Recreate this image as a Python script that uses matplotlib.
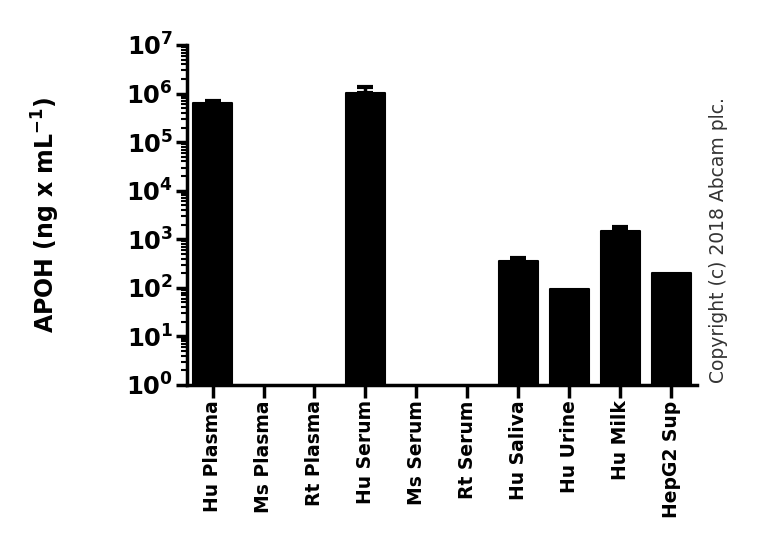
import numpy as np
import matplotlib
matplotlib.use("Agg")
import matplotlib.pyplot as plt
from matplotlib.ticker import LogLocator, FixedLocator, FuncFormatter

# sample data (ng/mL), 0 = not detected
samples = ["Hu Plasma", "Ms Plasma", "Rt Plasma", "Hu Serum", "Ms Serum",
           "Rt Serum", "Hu Saliva", "Hu Urine", "Hu Milk", "HepG2 Sup"]
apoh = [6.5e5, 0, 0, 1.01e6, 0, 0, 363, 95, 1510, 205]
apoh_err = [0.6e5, 0, 0, 0.34e6, 0, 0, 40, 0, 300, 0]

plt.rcParams["mathtext.fontset"] = "dejavusans"

vals = np.array(apoh, dtype=float)
errs = np.array(apoh_err, dtype=float)
mask = vals > 0
emask = errs > 0
x = np.arange(len(samples))

fig = plt.figure(figsize=(7.68, 5.59), dpi=100)
ax = fig.add_axes([0.2435, 0.3113, 0.664, 0.6082])

ax.bar(x[mask], vals[mask], width=0.76, color="black",
       edgecolor="black", linewidth=1.5, joinstyle="round", zorder=3)
ax.errorbar(x[emask], vals[emask], yerr=[np.zeros(emask.sum()), errs[emask]],
            fmt="none", ecolor="black", elinewidth=2.5, capsize=6,
            capthick=3, zorder=2)

ax.set_yscale("log")
ax.set_ylim(1, 1e7)
ax.set_xlim(-0.5, len(samples) - 0.5)

ax.yaxis.set_major_locator(LogLocator(base=10, numticks=10))
ax.yaxis.set_minor_locator(LogLocator(base=10, subs=np.arange(2, 10), numticks=10))
ax.yaxis.set_major_formatter(FuncFormatter(
    lambda v, p: r"$\mathbf{10^{%d}}$" % int(round(np.log10(v)))))

ax.xaxis.set_major_locator(FixedLocator(x))
ax.set_xticklabels(samples, rotation=90, fontsize=13.5, fontweight="bold")

for lab in ax.get_yticklabels():
    lab.set_fontsize(17.5)

ax.spines["top"].set_visible(False)
ax.spines["right"].set_visible(False)
ax.spines["left"].set_linewidth(2.5)
ax.spines["bottom"].set_linewidth(2.5)
ax.tick_params(axis="y", which="major", length=8, width=2.5, pad=2)
ax.tick_params(axis="y", which="minor", length=4, width=1.5)
ax.tick_params(axis="x", which="major", length=9, width=2.5, pad=2)

ax.set_ylabel(r"APOH (ng x mL$^{\mathbf{-1}}$)", fontsize=17,
              fontweight="bold")
ax.yaxis.set_label_coords(-0.245, 0.5)

fig.text(0.923, 0.571, "Copyright (c) 2018 Abcam plc.", rotation=90,
         fontsize=13.5, color="#333333", ha="left", va="center")

fig.savefig("out.png", dpi=100)
